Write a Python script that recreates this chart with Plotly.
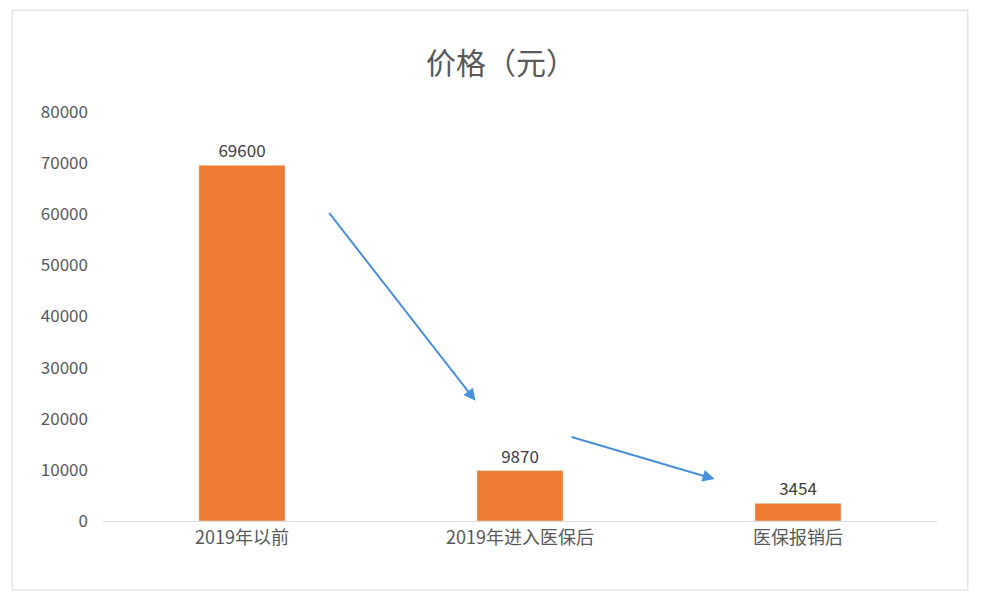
import plotly.graph_objects as go

categories = ["2019年以前", "2019年进入医保后", "医保报销后"]
prices = [69600, 9870, 3454]
y_ticks = [0, 10000, 20000, 30000, 40000, 50000, 60000, 70000, 80000]

fig = go.Figure()
fig.add_trace(go.Bar(
    x=categories, y=prices,
    marker_color="#ED7D31", width=0.31,
    text=[str(v) for v in prices], textposition="outside",
    textfont=dict(size=17, color="#404040"),
    cliponaxis=False,
))

# blue arrows showing the drop
arrow = dict(showarrow=True, arrowhead=2, arrowsize=1.2, arrowwidth=2,
             arrowcolor="#4A8FDC", text="", xref="x", yref="y", axref="x", ayref="y")
fig.add_annotation(x=0.84, y=23500, ax=0.31, ay=60500, **arrow)
fig.add_annotation(x=1.7, y=8200, ax=1.18, ay=16500, **arrow)

fig.add_shape(type="rect", xref="paper", yref="paper", x0=-0.109, x1=1.037, y0=-0.169, y1=1.249,
              line=dict(color="#D9D9D9", width=1))

fig.update_layout(
    width=986, height=598,
    margin=dict(l=95, r=57, t=104, b=85),
    paper_bgcolor="white", plot_bgcolor="white",
    title=dict(text="价格（元）", x=0.5, xanchor="center", y=0.925,
               font=dict(size=30, color="#595959", family="Noto Sans CJK SC")),
    font=dict(family="Noto Sans CJK SC, Liberation Sans", color="#595959", size=16),
    showlegend=False,
)
fig.update_xaxes(showline=True, linecolor="#D9D9D9", linewidth=1, ticks="",
                 tickfont=dict(size=18))
fig.update_yaxes(range=[0, 80000], tickvals=y_ticks, ticktext=[str(v) for v in y_ticks],
                 showgrid=False, zeroline=False, showline=False, tickfont=dict(size=17),
                 ticklabelstandoff=14)

fig.write_html("out.html")
